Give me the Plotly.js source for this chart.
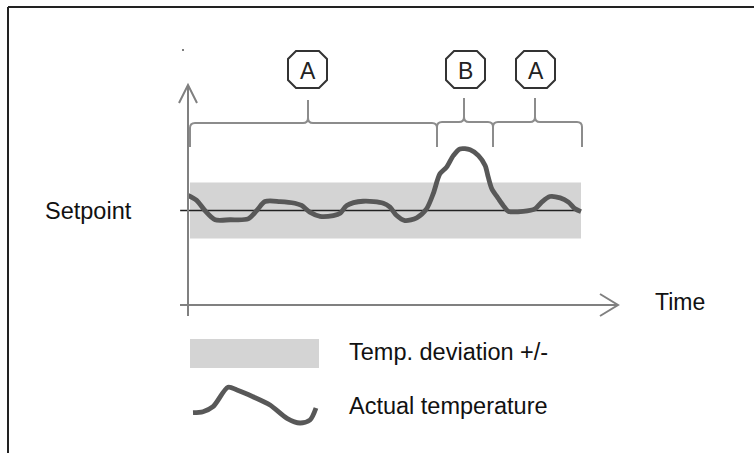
<!DOCTYPE html>
<html>
<head>
<meta charset="utf-8">
<script src="https://cdn.plot.ly/plotly-3.0.1.min.js"></script>
<style>
  html, body { margin: 0; padding: 0; background: #fff; }
  #chart { width: 754px; height: 453px; }
</style>
</head>
<body>
<div id="chart"></div>
<script>
// ---- Data (time in arbitrary units 0..100, temperature relative to setpoint; band = +/-1) ----
const time = [0, 2.2, 4.3, 6.9, 10.7, 15.3, 17.5, 19.6, 23.4, 27.2, 28.9, 31.0, 33.6, 37.0, 38.7, 40.4,
  44.6, 49.7, 51.4, 53.1, 55.2, 58.2, 60.7, 62.4, 64.1, 65.8, 67.5, 69.2, 71.8, 73.9, 75.6, 76.4,
  77.3, 79.0, 80.2, 81.5, 85.3, 88.3, 90.0, 92.1, 94.7, 96.8, 98.5, 100];
const actualTemp = [0.54, 0.36, 0.0, -0.33, -0.33, -0.30, 0.0, 0.32, 0.32, 0.26, 0.18, -0.06, -0.21, -0.18, -0.10, 0.18,
  0.33, 0.26, 0.12, -0.18, -0.36, -0.26, 0.06, 0.60, 1.31, 1.55, 1.96, 2.20, 2.17, 1.96, 1.61, 1.19,
  0.78, 0.42, 0.18, -0.03, -0.03, 0.06, 0.30, 0.50, 0.45, 0.30, 0.06, -0.04];
const setpoint = 0;
const deviation = 1;
const bandStart = 0.5, bandEnd = 100;
const setpointLineT = [-2, 100];
// phases: A (in band), B (deviation), A
const phaseLabels = ['A', 'B', 'A'];
// legend sample squiggle (icon)
const legendSampleX = [193, 203, 213, 228, 237, 253, 270, 287, 300, 310, 316];
const legendSampleY = [412.7, 411.7, 406.7, 387.3, 390, 396.7, 405, 418.3, 423, 420, 408];
const textLabels = { setpoint: 'Setpoint', time: 'Time', band: 'Temp. deviation +/-', actual: 'Actual temperature' };

// ---- Layout helpers ----
const FONT = '"Liberation Sans", Arial, sans-serif';
const axisGray = '#808080', bracketGray = '#8c8c8c', curveGray = '#585858', bandGray = '#d4d4d4';

function line(x0, y0, x1, y1, color, width) {
  return { type: 'line', xref: 'x2', yref: 'y2', x0, y0, x1, y1, line: { color, width } };
}
function path(d, color, width, fill) {
  return { type: 'path', xref: 'x2', yref: 'y2', path: d, line: { color, width },
           fillcolor: fill || 'rgba(0,0,0,0)' };
}
function bracket(x0, x1, xm, h, yb, yt) {
  const r = 5;
  return `M${x0},${yb} L${x0},${h + r} Q${x0},${h} ${x0 + r},${h} L${xm - r},${h} Q${xm},${h} ${xm},${h - r} L${xm},${yt} ` +
         `M${xm},${h - r} Q${xm},${h} ${xm + r},${h} L${x1 - r},${h} Q${x1},${h} ${x1},${h + r} L${x1},${yb}`;
}
function octagon(x0, x1, y0, y1, c) {
  return `M${x0 + c},${y0} L${x1 - c},${y0} L${x1},${y0 + c} L${x1},${y1 - c} L${x1 - c},${y1} L${x0 + c},${y1} L${x0},${y1 - c} L${x0},${y0 + c} Z`;
}

const boxes = [[288, 327], [446, 485], [516, 555]];

const shapes = [
  // deviation band (data coords)
  { type: 'rect', xref: 'x', yref: 'y', x0: bandStart, x1: bandEnd, y0: setpoint - deviation, y1: setpoint + deviation,
    fillcolor: bandGray, line: { width: 0 }, layer: 'below' },
  // frame (top + left)
  line(8, 7, 754, 7, '#222', 2),
  line(8, 7, 8, 453, '#222', 2),
  // y axis with arrow
  line(188, 85, 188, 316, axisGray, 2),
  path('M179,103 L188,85 L197,103', axisGray, 2),
  // x axis with arrow
  line(180, 305, 618, 305, axisGray, 2),
  path('M600,294 L618,305 L600,316', axisGray, 2),
  // brackets
  path(bracket(190, 437, 308, 123, 147, 100), bracketGray, 2),
  path(bracket(437, 493, 464, 122, 147, 98), bracketGray, 2),
  path(bracket(493, 582, 535, 122, 147, 98), bracketGray, 2),
  // label boxes
  ...boxes.map(b => path(octagon(b[0], b[1], 51, 88, 8), '#333', 2, '#fff')),
  // small dot
  { type: 'circle', xref: 'x2', yref: 'y2', x0: 182, x1: 184, y0: 49, y1: 51, fillcolor: '#555', line: { width: 0 } },
  // legend band swatch
  { type: 'rect', xref: 'x2', yref: 'y2', x0: 190, x1: 319, y0: 339, y1: 368, fillcolor: bandGray, line: { width: 0 } }
];

const annotations = [
  { text: textLabels.setpoint, x: 43, y: 211, xanchor: 'left', yanchor: 'middle' },
  { text: textLabels.time, x: 653, y: 302, xanchor: 'left', yanchor: 'middle', font: { family: FONT, size: 23, color: '#111' } },
  { text: textLabels.band, x: 347, y: 352, xanchor: 'left', yanchor: 'middle' },
  { text: textLabels.actual, x: 347, y: 406, xanchor: 'left', yanchor: 'middle' },
].map(a => Object.assign({ xref: 'x2', yref: 'y2', showarrow: false, font: { family: FONT, size: 23.5, color: '#111' } }, a));

phaseLabels.forEach((lab, i) => {
  annotations.push({ text: lab, xref: 'x2', yref: 'y2', x: (boxes[i][0] + boxes[i][1]) / 2, y: 70.5,
    xanchor: 'center', yanchor: 'middle', showarrow: false, font: { family: FONT, size: 23, color: '#222' } });
});

const traces = [
  { x: setpointLineT, y: [setpoint, setpoint], mode: 'lines', line: { color: '#222', width: 1.6 },
    xaxis: 'x', yaxis: 'y', hoverinfo: 'skip' },
  { x: time, y: actualTemp, mode: 'lines', line: { color: curveGray, width: 4.8, shape: 'spline', smoothing: 0.8 },
    xaxis: 'x', yaxis: 'y', hoverinfo: 'skip' },
  { x: legendSampleX, y: legendSampleY, mode: 'lines', line: { color: curveGray, width: 4.8, shape: 'spline', smoothing: 0.8 },
    xaxis: 'x2', yaxis: 'y2', hoverinfo: 'skip' }
];

// pixel mapping: t=0 at x=188, 3.93 px per unit; T=0 at y=210.5, 28 px per unit
const layout = {
  width: 754, height: 453,
  margin: { l: 0, r: 0, t: 0, b: 0 },
  paper_bgcolor: '#fff', plot_bgcolor: '#fff',
  showlegend: false,
  xaxis: { range: [-188 / 3.93, (754 - 188) / 3.93], visible: false, fixedrange: true },
  yaxis: { range: [(210.5 - 453) / 28, 210.5 / 28], visible: false, fixedrange: true },
  xaxis2: { range: [0, 754], visible: false, overlaying: 'x', anchor: 'y2', fixedrange: true },
  yaxis2: { range: [453, 0], visible: false, overlaying: 'y', anchor: 'x2', fixedrange: true },
  shapes, annotations
};

Plotly.newPlot('chart', traces, layout, { staticPlot: true, displayModeBar: false });
</script>
</body>
</html>
